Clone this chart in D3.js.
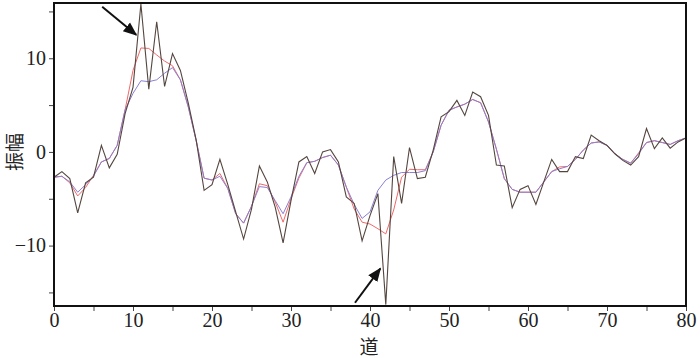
<!doctype html>
<html lang="zh">
<head>
  <meta charset="utf-8">
  <title>振幅</title>
  <style>
    body { margin: 0; background: #fff; }
    svg { display: block; }
    .lbl { font-family: "Noto Sans CJK SC", sans-serif; font-size: 19px; fill: #222; }
  </style>
</head>
<body>
  <script src="https://cdn.jsdelivr.net/npm/d3@7"></script>
  <svg width="700" height="358"></svg>
  <script>
    // trace numbers 0..80
    var traces = d3.range(0, 81);

    // raw amplitude (black)
    var raw = [-2.7, -2.1, -2.85, -6.5, -3.3, -2.7, 0.7, -1.7, -0.25, 4.1,
      6.9, 15.8, 6.7, 13.9, 7.0, 10.5, 8.7, 5.2, 1.25, -4.1,
      -3.5, -0.8, -3.5, -6.4, -9.3, -6.1, -1.5, -3.2, -5.9, -9.7,
      -5.2, -1.07, -0.5, -2.3, 0.0, 0.25, -1.07, -4.8, -5.5, -9.5,
      -6.8, -4.45, -16.3, -0.5, -5.5, 0.47, -2.85, -2.7, 0.2, 3.75,
      4.3, 5.5, 3.9, 6.4, 5.9, 3.9, -1.4, -1.5, -5.95, -4.0,
      -3.6, -5.6, -3.2, -0.8, -2.1, -2.1, -0.5, -0.7, 1.8, 1.2,
      0.7, -0.2, -0.9, -1.4, -0.5, 2.5, 0.35, 1.5, 0.4, 1.07, 1.5];

    // filtered result 1 (red)
    var redVals = [-2.7, -2.6, -3.3, -4.7, -3.8, -2.5, -1.07, -0.7, 0.7, 4.5,
      8.7, 11.1, 11.05, 10.35, 9.7, 9.2, 7.7, 4.8, 1.2, -2.8,
      -3.0, -2.3, -3.9, -6.6, -7.6, -5.8, -3.4, -3.6, -5.35, -7.5,
      -5.0, -2.8, -1.15, -1.0, -0.6, -0.35, -1.4, -3.75, -6.1, -7.5,
      -7.7, -8.2, -8.75, -6.2, -2.7, -1.85, -1.9, -1.9, 0.0, 2.85,
      4.45, 4.8, 5.1, 5.6, 5.25, 3.2, 0.3, -2.85, -4.0, -4.3,
      -4.3, -4.3, -3.2, -2.1, -1.6, -1.55, -0.8, 0.2, 0.95, 1.07,
      0.7, -0.2, -0.8, -1.2, -0.1, 1.0, 1.2, 1.0, 0.8, 1.2, 1.5];

    // filtered result 2 (blue)
    var blueVals = [-2.7, -2.6, -3.2, -4.3, -3.5, -2.6, -1.07, -0.7, 0.7, 4.5,
      6.25, 7.6, 7.5, 7.7, 8.4, 9.0, 7.7, 4.8, 1.2, -2.8,
      -3.0, -2.6, -3.9, -6.6, -7.6, -5.8, -3.7, -3.8, -5.2, -6.6,
      -4.8, -2.6, -1.15, -1.0, -0.6, -0.35, -1.4, -3.75, -5.6, -7.1,
      -6.4, -4.1, -3.0, -2.5, -2.2, -2.2, -2.2, -2.0, 0.0, 2.85,
      4.45, 4.8, 5.1, 5.6, 5.25, 3.2, 0.3, -2.85, -4.0, -4.3,
      -4.3, -4.3, -3.2, -2.1, -1.8, -1.55, -0.8, 0.2, 0.95, 1.07,
      0.7, -0.2, -0.8, -1.2, -0.2, 1.0, 1.2, 1.0, 0.8, 1.2, 1.5];

    var xTicks = d3.range(0, 81, 5);
    var yTicks = [-15, -10, -5, 0, 5, 10, 15];

    // arrows in data units [x0, y0, x1, y1]
    var arrows = [[6.1, 15.5, 10.4, 12.5], [38.1, -16.1, 41.3, -12.45]];

    var margin = {top: 3, right: 14, bottom: 52, left: 54};
    var svg = d3.select("svg");
    var w = 700 - margin.left - margin.right;
    var h = 358 - margin.top - margin.bottom;
    var g = svg.append("g").attr("transform", "translate(" + margin.left + "," + margin.top + ")");

    var x = d3.scaleLinear().domain([0, 80]).range([0, w]);
    var y = d3.scaleLinear().domain([-16.45, 15.9]).range([h, 0]);

    svg.append("defs").append("clipPath").attr("id", "c")
      .append("rect").attr("width", w).attr("height", h);

    var fmt = d => d % 10 === 0 ? (d < 0 ? "\u2212" + Math.abs(d) : d) : "";

    var xa = g.append("g").attr("transform", "translate(0," + h + ")")
      .call(d3.axisBottom(x).tickValues(xTicks).tickFormat(fmt).tickSize(5).tickPadding(2));
    var ya = g.append("g")
      .call(d3.axisLeft(y).tickValues(yTicks).tickFormat(fmt).tickSize(5).tickPadding(3));
    [xa, ya].forEach(a => {
      a.attr("font-family", "'Liberation Serif', 'DejaVu Serif', serif").attr("font-size", 20);
      a.select(".domain").remove();
      a.selectAll("line").attr("stroke", "#444");
      a.selectAll("text").attr("fill", "#222");
    });

    var line = vals => d3.line().x((d, i) => x(traces[i])).y(d => y(d))(vals);

    var lines = g.append("g").attr("clip-path", "url(#c)");
    lines.append("path").attr("d", line(redVals)).attr("fill", "none")
      .attr("stroke", "#f26868").attr("stroke-width", 1);
    lines.append("path").attr("d", line(blueVals)).attr("fill", "none")
      .attr("stroke", "#8a80d4").attr("stroke-width", 1);
    lines.append("path").attr("d", line(raw)).attr("fill", "none")
      .attr("stroke", "#54463f").attr("stroke-width", 1.1);

    // frame
    g.append("rect").attr("width", w).attr("height", h)
      .attr("fill", "none").attr("stroke", "#111").attr("stroke-width", 2);

    // arrows
    svg.append("defs").append("marker").attr("id", "ah")
      .attr("viewBox", "0 0 10 10").attr("refX", 9).attr("refY", 5)
      .attr("markerWidth", 7).attr("markerHeight", 7).attr("orient", "auto")
      .append("path").attr("d", "M0,1L10,5L0,9z").attr("fill", "#111");
    g.selectAll(".arr").data(arrows).enter().append("line")
      .attr("x1", d => x(d[0])).attr("y1", d => y(d[1]))
      .attr("x2", d => x(d[2])).attr("y2", d => y(d[3]))
      .attr("stroke", "#111").attr("stroke-width", 2)
      .attr("marker-end", "url(#ah)");

    svg.append("text").attr("class", "lbl").attr("text-anchor", "middle")
      .attr("transform", "translate(22,152) rotate(-90)").text("振幅");
    svg.append("text").attr("class", "lbl").attr("text-anchor", "middle")
      .attr("font-size", 18).attr("x", 369).attr("y", 354).text("道");
  </script>
</body>
</html>
